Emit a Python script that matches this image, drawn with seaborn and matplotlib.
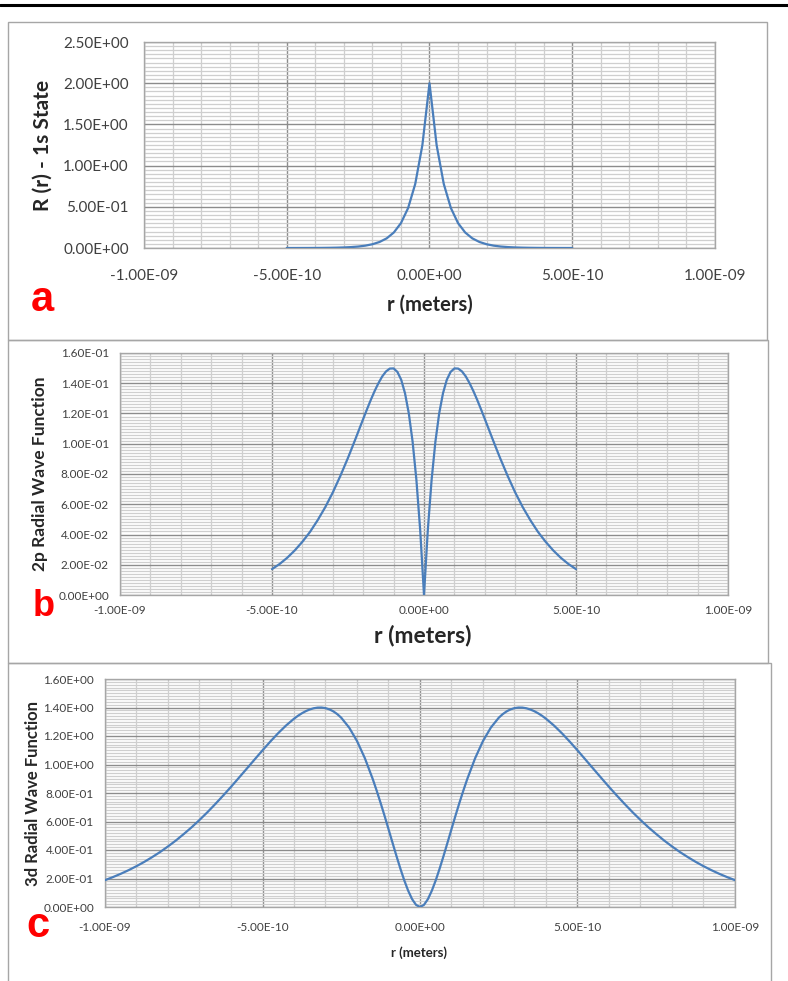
import pandas as pd
import matplotlib.pyplot as plt
import seaborn as sns
from matplotlib.ticker import MultipleLocator, FixedLocator, FuncFormatter
from matplotlib.lines import Line2D
from matplotlib.patches import Rectangle

# r values in units of 1e-10 m, radial function values
r_1s = [-5.0, -4.75, -4.5, -4.25, -4.0, -3.75, -3.5, -3.25, -3.0, -2.75, -2.5,
        -2.25, -2.0, -1.75, -1.5, -1.25, -1.0, -0.75, -0.5, -0.25, 0.0,
        0.25, 0.5, 0.75, 1.0, 1.25, 1.5, 1.75, 2.0, 2.25, 2.5,
        2.75, 3.0, 3.25, 3.5, 3.75, 4.0, 4.25, 4.5, 4.75, 5.0]
R_1s = [0.0002, 0.0002, 0.0004, 0.0006, 0.0010, 0.0017, 0.0027, 0.0043, 0.0069, 0.0110, 0.0177,
        0.0284, 0.0456, 0.0731, 0.117, 0.188, 0.302, 0.484, 0.777, 1.247, 2.000,
        1.247, 0.777, 0.484, 0.302, 0.188, 0.117, 0.0731, 0.0456, 0.0284, 0.0177,
        0.0110, 0.0069, 0.0043, 0.0027, 0.0017, 0.0010, 0.0006, 0.0004, 0.0002, 0.0002]

r_2p = [-5.0, -4.75, -4.5, -4.25, -4.0, -3.75, -3.5, -3.25, -3.0, -2.75, -2.5,
        -2.375, -2.25, -2.125, -2.0, -1.875, -1.75, -1.625, -1.5, -1.375, -1.25,
        -1.125, -1.0, -0.875, -0.75, -0.625, -0.5, -0.375, -0.25, -0.125, 0.0,
        0.125, 0.25, 0.375, 0.5, 0.625, 0.75, 0.875, 1.0, 1.125, 1.25,
        1.375, 1.5, 1.625, 1.75, 1.875, 2.0, 2.125, 2.25, 2.375, 2.5,
        2.75, 3.0, 3.25, 3.5, 3.75, 4.0, 4.25, 4.5, 4.75, 5.0]
R_2p = [0.0171, 0.0205, 0.0246, 0.0295, 0.0352, 0.0417, 0.0494, 0.0580, 0.0678, 0.0788, 0.0907,
        0.0970, 0.1034, 0.1099, 0.1164, 0.1228, 0.1290, 0.1348, 0.1400, 0.1445, 0.1478,
        0.1497, 0.1498, 0.1475, 0.1423, 0.1334, 0.1201, 0.1014, 0.0761, 0.0428, 0.0,
        0.0428, 0.0761, 0.1014, 0.1201, 0.1334, 0.1423, 0.1475, 0.1498, 0.1497, 0.1478,
        0.1445, 0.1400, 0.1348, 0.1290, 0.1228, 0.1164, 0.1099, 0.1034, 0.0970, 0.0907,
        0.0788, 0.0678, 0.0580, 0.0494, 0.0417, 0.0352, 0.0295, 0.0246, 0.0205, 0.0171]

r_3d = [-10.0, -9.75, -9.5, -9.25, -9.0, -8.75, -8.5, -8.25, -8.0, -7.75,
        -7.5, -7.25, -7.0, -6.75, -6.5, -6.25, -6.0, -5.75, -5.5, -5.25,
        -5.0, -4.75, -4.5, -4.25,
        -4.0, -3.875, -3.75, -3.625, -3.5, -3.375, -3.25, -3.125, -3.0, -2.875,
        -2.75, -2.625, -2.5, -2.25, -2.0, -1.75, -1.5, -1.375, -1.25, -1.125,
        -1.0, -0.875, -0.75, -0.625, -0.5, -0.375, -0.25, -0.125, 0.0,
        0.125, 0.25, 0.375, 0.5, 0.625, 0.75, 0.875, 1.0, 1.125, 1.25,
        1.375, 1.5, 1.75, 2.0, 2.25, 2.5, 2.625, 2.75, 2.875, 3.0,
        3.125, 3.25, 3.375, 3.5, 3.625, 3.75, 3.875, 4.0,
        4.25, 4.5, 4.75, 5.0, 5.25, 5.5, 5.75, 6.0, 6.25, 6.5,
        6.75, 7.0, 7.25, 7.5, 7.75, 8.0, 8.25, 8.5, 8.75, 9.0,
        9.25, 9.5, 9.75, 10.0]
R_3d = [0.1883, 0.2097, 0.2330, 0.2586, 0.2866, 0.3171, 0.3504, 0.3859, 0.4251, 0.4666,
        0.5120, 0.5595, 0.6108, 0.6648, 0.7222, 0.7817, 0.8430, 0.9066, 0.9707, 1.0353,
        1.0992, 1.1614, 1.2204, 1.2741,
        1.3212, 1.3417, 1.3594, 1.3744, 1.3862, 1.3946, 1.3992, 1.3997, 1.3956, 1.3868,
        1.3728, 1.3534, 1.3281, 1.2593, 1.1649, 1.0440, 0.8978, 0.8163, 0.7298, 0.6398,
        0.5468, 0.4530, 0.3600, 0.2706, 0.1874, 0.1140, 0.0548, 0.0148, 0.0,
        0.0148, 0.0548, 0.1140, 0.1874, 0.2706, 0.3600, 0.4530, 0.5468, 0.6398, 0.7298,
        0.8163, 0.8978, 1.0440, 1.1649, 1.2593, 1.3281, 1.3534, 1.3728, 1.3868, 1.3956,
        1.3997, 1.3992, 1.3946, 1.3862, 1.3744, 1.3594, 1.3417, 1.3212,
        1.2741, 1.2204, 1.1614, 1.0992, 1.0353, 0.9707, 0.9066, 0.8430, 0.7817, 0.7222,
        0.6648, 0.6108, 0.5595, 0.5120, 0.4666, 0.4251, 0.3859, 0.3504, 0.3171, 0.2866,
        0.2586, 0.2330, 0.2097, 0.1883]

x_ticks = [-1e-9, -5e-10, 0.0, 5e-10, 1e-9]
xlabel_all = "r (meters)"
ylabels = ["R (r) - 1s State", "2p Radial Wave Function", "3d Radial Wave Function"]
panel_tags = ["a", "b", "c"]

sns.set_style("white")
plt.rcParams['font.family'] = ['Lato', 'DejaVu Sans']

W, H = 788, 981
fig = plt.figure(figsize=(W / 100, H / 100), dpi=100)

def px_axes(l, t, r, b):
    return fig.add_axes([l / W, 1 - b / H, (r - l) / W, (b - t) / H])

def sci(v, pos):
    return "{:.2E}".format(v)

line_col = "#4a7ebb"

# top rule and panel frames
fig.add_artist(Line2D([0, 1], [1 - 5 / H, 1 - 5 / H], color="black", lw=2.2,
                      transform=fig.transFigure))
for (x0, y0, x1, y1) in [(8, 22, 767, 340), (8, 340, 768, 663), (8, 663, 771, 990)]:
    fig.add_artist(Rectangle((x0 / W, 1 - y1 / H), (x1 - x0) / W, (y1 - y0) / H,
                             transform=fig.transFigure, fill=False,
                             edgecolor="#a6a6a6", lw=1))

panels = [
    dict(box=(144, 42, 715, 248), r=r_1s, R=R_1s, ymax=2.5, ymaj=0.5, ymin=0.05,
         tick_fs=11, ypad=11, xpad=15),
    dict(box=(120, 353, 728, 595), r=r_2p, R=R_2p, ymax=0.16, ymaj=0.02, ymin=0.002,
         tick_fs=8.5, ypad=8, xpad=7),
    dict(box=(105, 679, 735, 907), r=r_3d, R=R_3d, ymax=1.6, ymaj=0.2, ymin=0.02,
         tick_fs=8.5, ypad=8, xpad=11),
]

for p in panels:
    ax = px_axes(*p["box"])
    df = pd.DataFrame({"r": [v * 1e-10 for v in p["r"]], "R": p["R"]})
    sns.lineplot(data=df, x="r", y="R", ax=ax, color=line_col, linewidth=1.6,
                 sort=False, zorder=3)
    ax.set_xlim(-1e-9, 1e-9)
    ax.set_ylim(0, p["ymax"])
    n_y = int(round(p["ymax"] / p["ymaj"]))
    ax.xaxis.set_major_locator(FixedLocator(x_ticks))
    ax.xaxis.set_minor_locator(MultipleLocator(1e-10))
    ax.yaxis.set_major_locator(FixedLocator([i * p["ymaj"] for i in range(n_y + 1)]))
    ax.yaxis.set_minor_locator(MultipleLocator(p["ymin"]))
    ax.xaxis.set_major_formatter(FuncFormatter(sci))
    ax.yaxis.set_major_formatter(FuncFormatter(sci))
    ax.grid(which="minor", color="#cfcfcf", lw=0.9)
    ax.grid(which="major", color="#8c8c8c", lw=1.0)
    ax.set_axisbelow(True)
    ax.tick_params(which="both", length=0, colors="#404040")
    ax.tick_params(axis="y", labelsize=p["tick_fs"], pad=p["ypad"])
    ax.tick_params(axis="x", labelsize=p["tick_fs"], pad=p["xpad"])
    ax.set_xlabel("")
    ax.set_ylabel("")
    for s in ax.spines.values():
        s.set_color("#a6a6a6")
        s.set_linewidth(1)

def ftext(x, y, s, **kw):
    fig.text(x / W, 1 - y / H, s, ha="center", va="center", **kw)

# panel a labels
ftext(43, 145, ylabels[0], rotation=90, fontsize=15, fontweight="bold")
ftext(430, 305, xlabel_all, fontsize=14.5, fontweight="bold")
ftext(42, 300, panel_tags[0], fontsize=30, fontweight="bold", color="red",
      family="Liberation Sans")
# panel b labels
ftext(40, 474, ylabels[1], rotation=90, fontsize=12.5, fontweight="bold")
ftext(423, 635, xlabel_all, fontsize=16.5, fontweight="bold")
ftext(44, 606, panel_tags[1], fontsize=26, fontweight="bold", color="red",
      family="Liberation Sans")
# panel c labels
ftext(33, 793, ylabels[2], rotation=90, fontsize=12, fontweight="bold")
ftext(419, 953, xlabel_all, fontsize=9.5, fontweight="bold")
ftext(38, 926, panel_tags[2], fontsize=30, fontweight="bold", color="red",
      family="Liberation Sans")

fig.savefig("out.png", dpi=100)
